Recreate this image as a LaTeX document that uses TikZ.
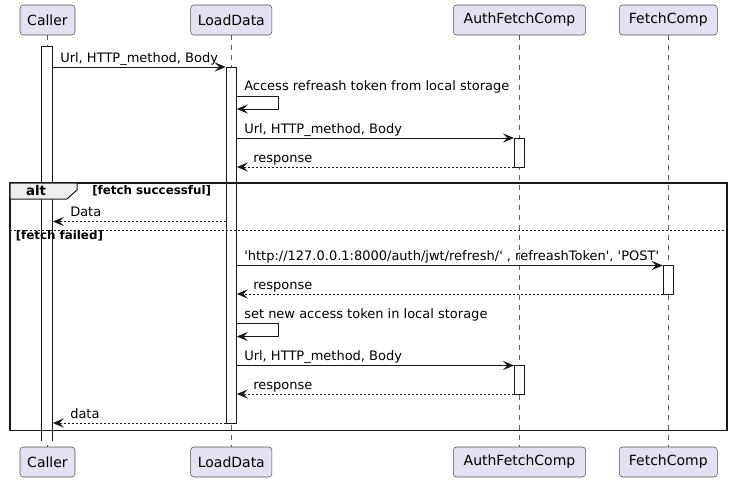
\documentclass[tikz,border=0pt]{standalone}
\usepackage{fontspec}
\setmainfont{DejaVu Sans}
\usetikzlibrary{arrows.meta}
\usetikzlibrary{fit}
\definecolor{partfill}{HTML}{E2E2F0}
\definecolor{umlline}{HTML}{181818}
\definecolor{tabfill}{HTML}{EEEEEE}
\newcommand{\qs}{\textquotesingle}

\begin{document}
\begin{tikzpicture}[x=0.75pt,y=-0.75pt,>={Stealth[length=8.5pt,width=7pt,inset=3.5pt]},
		part/.style={draw=umlline!75,line width=0.4pt,fill=partfill,rounded corners=2.5pt,minimum height=22.5pt,inner sep=0pt,font=\fontsize{10.5}{12}\selectfont},
		life/.style={draw=umlline!70,line width=0.4pt,dash pattern=on 3.75pt off 3.75pt},
		actbar/.style={draw=umlline,fill=white,line width=0.75pt,inner sep=0pt},
		msg/.style={->,draw=umlline,line width=0.75pt},
		reply/.style={msg,dash pattern=on 1.5pt off 1.5pt},
		lbl/.style={anchor=base west,inner sep=0pt,font=\fontsize{9.75}{11}\selectfont},
		guard/.style={anchor=base west,inner sep=0pt,font=\bfseries\fontsize{8.9}{10}\selectfont}]
		\useasboundingbox (0,0) rectangle (733,482);
		
		% participants, top and bottom
		\node[part,minimum width=41.25pt] (caller) at (47.5,20) {Caller};
		\node[part,minimum width=61pt] (load) at (231.3,20) {LoadData};
		\node[part,minimum width=99.3pt] (auth) at (519.5,20) {AuthFetchComp};
		\node[part,minimum width=73.5pt] (fetch) at (668.3,20) {FetchComp};
		\node[part,minimum width=41.25pt] (caller-foot) at (47.5,462) {Caller};
		\node[part,minimum width=61pt] (load-foot) at (231.3,462) {LoadData};
		\node[part,minimum width=99.3pt] (auth-foot) at (519.5,462) {AuthFetchComp};
		\node[part,minimum width=73.5pt] (fetch-foot) at (668.3,462) {FetchComp};
		\foreach \p in {caller,load,auth,fetch}
		\draw[life] (\p) -- (\p-foot);
		
		% activations (caller's stays open at the bottom)
		\node[actbar,draw=none,fit={(42.3,46.5) (52.3,440)}] (actCaller) {};
		\draw[umlline,line width=0.75pt] (actCaller.south west) -- (actCaller.north west) -- (actCaller.north east) -- (actCaller.south east);
		\node[actbar,fit={(226.3,67) (236.3,423)}] (actLoad) {};
		\node[actbar,fit={(514.5,138) (524.5,167)}] (actAuth1) {};
		\node[actbar,fit={(663.3,265.5) (673.3,294)}] (actFetch) {};
		\node[actbar,fit={(514.5,365.5) (524.5,394)}] (actAuth2) {};
		
		% alt frame
		\draw[umlline,line width=1.1pt] (10,183) rectangle (727,430.5);
		\draw[umlline,line width=0.75pt,fill=tabfill] (10,183) -- (77,183) -- (77,190) -- (67,199) -- (10,199) -- cycle;
		\node[anchor=base,inner sep=0pt,font=\bfseries\fontsize{10}{11}\selectfont] (altword) at (36,195) {alt};
		\node[guard] (gsucc) at (92,194.5) {[fetch successful]};
		\draw[umlline,line width=0.5pt,dash pattern=on 1.5pt off 1.5pt] (10,230.5) -- (727,230.5);
		\node[guard] (gfail) at (15.5,239.5) {[fetch failed]};
		
		% messages
		\draw[msg] (actCaller.east |- 0,67) -- (actLoad.west |- 0,67);
		\node[lbl] (m1) at (60,62) {Url, HTTP\_method, Body};
		\draw[msg] (actLoad.east |- 0,96) -- ++(42,0) -- ++(0,13) -- (actLoad.east |- 0,109);
		\node[lbl] (m2) at (244,90.5) {Access refreash token from local storage};
		\draw[msg] (actLoad.east |- 0,138) -- (actAuth1.west |- 0,138);
		\node[lbl] (m3) at (244,133) {Url, HTTP\_method, Body};
		\draw[reply] (actAuth1.west |- 0,167) -- (actLoad.east |- 0,167);
		\node[lbl] (m4) at (253,162) {response};
		\draw[reply] (actLoad.west |- 0,221.5) -- (actCaller.east |- 0,221.5);
		\node[lbl] (m5) at (70,216.5) {Data};
		\draw[msg] (actLoad.east |- 0,265.5) -- (actFetch.west |- 0,265.5);
		\node[lbl] (m6) at (244,260) {\qs http://127.0.0.1:8000/auth/jwt/refresh/\qs{} , refreashToken\qs, \qs POST\qs};
		\draw[reply] (actFetch.west |- 0,294) -- (actLoad.east |- 0,294);
		\node[lbl] (m7) at (253,289) {response};
		\draw[msg] (actLoad.east |- 0,323.5) -- ++(42,0) -- ++(0,13) -- (actLoad.east |- 0,336.5);
		\node[lbl] (m8) at (244,318) {set new access token in local storage};
		\draw[msg] (actLoad.east |- 0,365.5) -- (actAuth2.west |- 0,365.5);
		\node[lbl] (m9) at (244,360.5) {Url, HTTP\_method, Body};
		\draw[reply] (actAuth2.west |- 0,394) -- (actLoad.east |- 0,394);
		\node[lbl] (m10) at (253,389) {response};
		\draw[reply] (actLoad.west |- 0,423) -- (actCaller.east |- 0,423);
		\node[lbl] (m11) at (70,418) {data};
		
\end{tikzpicture}
\end{document}
